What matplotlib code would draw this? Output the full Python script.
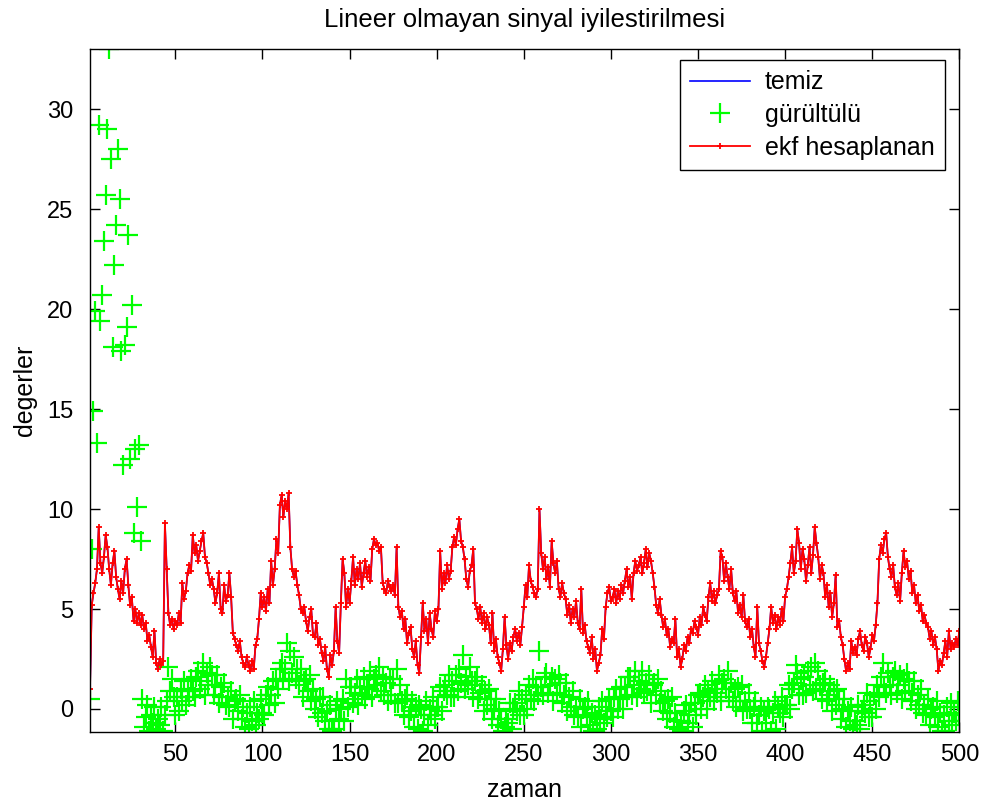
import numpy as np
import matplotlib
matplotlib.use("Agg")
import matplotlib.pyplot as plt

plt.rcParams['font.family'] = ['Liberation Sans', 'DejaVu Sans']

# ekf estimate, t = 1..500
ekf = [
    1.0, 5.2, 5.8, 6.3, 7.0, 9.1, 7.3, 6.8, 7.6, 8.7,
    8.1, 7.0, 6.2, 7.3, 7.9, 6.6, 6.0, 5.5, 6.4, 5.8,
    7.0, 7.5, 6.2, 5.2, 5.6, 4.4, 5.0, 4.3, 4.8, 4.2,
    4.7, 4.0, 4.3, 3.4, 3.7, 3.1, 2.6, 3.9, 2.3, 2.0,
    2.5, 2.2, 2.4, 9.3, 7.0, 4.8, 4.2, 4.5, 4.0, 4.4,
    4.2, 4.8, 4.3, 6.3, 5.5, 5.9, 6.8, 7.2, 6.9, 8.7,
    7.8, 8.2, 7.4, 7.9, 8.4, 8.8, 7.6, 7.3, 6.8, 6.2,
    6.5, 6.0, 5.3, 5.8, 6.8, 5.0, 4.8, 6.2, 5.4, 5.7,
    6.8, 5.6, 3.8, 3.5, 3.2, 2.9, 3.4, 2.6, 2.3, 2.1,
    2.6, 2.2, 1.9, 2.4, 2.0, 3.2, 3.5, 4.5, 5.8, 5.1,
    5.6, 4.9, 6.0, 5.3, 7.4, 6.2, 7.0, 8.5, 7.8, 10.2,
    10.7, 9.6, 10.4, 10.0, 10.8, 8.1, 7.0, 6.6, 6.9, 6.2,
    5.7, 5.0, 4.8, 5.1, 4.4, 3.9, 4.6, 5.0, 3.7, 3.6,
    4.3, 3.2, 3.5, 2.8, 2.4, 3.1, 2.0, 1.6, 2.7, 2.2,
    2.9, 5.1, 3.4, 2.8, 5.3, 7.5, 6.8, 5.1, 6.0, 5.3,
    6.4, 7.6, 6.2, 7.0, 6.5, 7.3, 6.1, 6.8, 7.4, 6.6,
    7.1, 6.4, 8.0, 8.5, 8.2, 8.3, 7.9, 8.1, 6.3, 6.0,
    5.8, 6.4, 6.1, 5.9, 6.2, 5.7, 8.1, 5.1, 4.6, 4.9,
    4.0, 4.5, 3.3, 3.8, 4.1, 3.0, 2.6, 3.4, 2.2, 1.8,
    3.6, 5.3, 3.9, 4.5, 3.3, 4.8, 4.0, 3.6, 4.9, 4.4,
    5.0, 7.9, 6.0, 6.8, 6.3, 7.2, 6.5, 6.9, 8.1, 8.6,
    8.2, 9.0, 9.5, 8.4, 8.1, 7.5, 6.5, 6.1, 6.9, 7.2,
    8.0, 5.3, 5.0, 4.5, 5.1, 4.3, 4.8, 4.0, 4.6, 4.2,
    3.3, 4.8, 2.9, 3.5, 2.6, 2.3, 1.9, 3.0, 4.6, 3.2,
    2.5, 3.3, 2.9, 3.6, 4.0, 3.4, 3.8, 3.2, 4.1, 5.1,
    6.2, 5.6, 7.2, 6.4, 6.1, 5.8, 5.6, 6.0, 10.0, 7.8,
    7.0, 7.6, 6.5, 7.1, 6.1, 8.4, 7.3, 6.8, 7.4, 6.0,
    5.6, 6.3, 5.8, 5.5, 4.7, 5.2, 4.3, 5.0, 4.6, 5.4,
    4.3, 4.0, 6.0, 3.8, 4.2, 3.4, 3.1, 2.8, 3.6, 2.5,
    3.0, 1.9, 2.3, 2.7, 4.0, 3.5, 5.1, 5.8, 6.1, 5.4,
    5.6, 6.0, 5.3, 5.9, 5.5, 6.2, 5.8, 6.4, 7.0, 6.1,
    6.6, 5.5, 6.8, 7.4, 6.9, 7.2, 7.6, 6.8, 7.3, 8.0,
    7.1, 7.8, 7.4, 6.8, 6.1, 5.2, 4.8, 5.5, 4.7, 4.1,
    4.5, 3.7, 4.0, 3.1, 3.5, 3.3, 4.5, 2.6, 3.0, 2.1,
    2.5, 3.2, 2.9, 3.6, 3.3, 4.0, 3.8, 4.4, 4.1, 3.7,
    4.6, 4.2, 5.1, 4.7, 4.4, 5.6, 6.3, 5.4, 5.9, 5.3,
    5.7, 6.0, 7.9, 7.6, 6.4, 7.3, 6.6, 6.0, 7.0, 5.8,
    5.4, 5.9, 4.8, 5.2, 4.6, 5.7, 4.4, 4.1, 4.5, 3.6,
    4.0, 3.1, 2.6, 5.1, 3.3, 2.9, 2.4, 2.1, 2.6, 3.3,
    4.0, 5.1, 4.3, 4.7, 4.0, 4.6, 4.2, 5.0, 4.4, 5.6,
    6.0, 6.6, 7.3, 8.1, 6.8, 7.4, 9.0, 8.3, 7.0, 8.0,
    7.5, 6.4, 7.2, 8.1, 6.8, 7.7, 9.1, 8.3, 7.6, 6.5,
    7.2, 6.8, 5.6, 6.2, 5.1, 5.8, 4.6, 5.3, 6.7, 4.1,
    4.4, 3.6, 3.2, 2.5, 1.9, 2.3, 2.0, 3.4, 2.8, 3.1,
    2.7, 3.5, 3.9, 3.2, 2.9, 3.6, 3.3, 2.6, 3.0, 3.7,
    3.4, 4.2, 5.3, 7.5, 8.2, 7.8, 8.5, 8.8, 7.6, 7.0,
    6.6, 7.2, 6.1, 5.7, 6.3, 5.4, 6.8, 7.9, 7.1, 7.4,
    6.5, 6.9, 5.8, 6.2, 5.3, 5.7, 4.9, 5.2, 4.4, 4.7,
    4.3, 4.1, 3.5, 3.9, 3.2, 3.6, 3.0, 1.9, 2.4, 2.2,
    2.8, 3.4, 2.6, 3.9, 3.0, 3.3, 3.1, 3.5, 3.2, 3.9,
]

noisy = [
    0.5, 8.0, 14.9, 19.9, 13.3, 29.2, 19.4, 20.7, 23.4, 25.7,
    29.0, 33.0, 27.5, 18.1, 22.2, 24.2, 28.0, 25.5, 17.9, 12.2,
    18.2, 19.1, 23.7, 12.5, 20.2, 8.8, 13.0, 10.1, 13.2, 8.4,
    0.5, -0.9, -0.4, 0.2, -1.1, -0.3, -0.7, 0.1, -1.0, -0.5,
    -0.8, 0.1, -1.1, -0.3, 0.4, 2.1, 0.9, 1.5, 0.6, -0.3,
    0.6, -0.1, 1.0, 0.4, 1.4, 0.2, 0.9, 0.6, 1.5, 0.9,
    0.6, 1.6, 1.9, 1.0, 1.4, 2.3, 0.7, 1.8, 1.2, 2.1,
    1.7, 0.7, 1.2, 1.7, 0.3, 1.1, 0.6, 1.3, 0.2, 0.6,
    0.1, 0.9, -0.5, 0.4, 0.5, -0.1, 0.7, -0.5, 0.1, -0.9,
    -0.2, -1.0, 0.1, -0.6, 0.4, -0.8, -0.2, -0.5, 0.5, -0.2,
    -0.3, 0.7, 1.1, 0.2, 0.7, 1.4, 0.3, 1.5, 1.0, 2.0,
    2.3, 1.5, 2.0, 3.3, 1.4, 2.9, 1.8, 2.6, 1.5, 2.0,
    1.2, 2.0, 0.6, 1.4, 1.5, 0.9, 1.7, 0.4, 1.0, 0.0,
    0.5, -0.4, 0.6, -0.2, 0.6, -0.6, -0.1, -1.0, 0.2, -1.1,
    -1.0, 0.0, 0.4, -0.5, 0.0, 0.5, -0.6, 1.5, 0.1, 1.1,
    1.1, 0.3, 0.8, 1.5, 0.2, 1.1, 0.7, 1.6, 0.5, 1.1,
    1.0, 1.9, 0.6, 1.5, 1.7, 1.2, 2.1, 0.9, 1.6, 0.7,
    1.3, 0.4, 1.5, 0.7, 1.5, 0.3, 2.0, 0.3, 1.2, 0.4,
    -0.3, 0.5, 0.7, -0.4, -0.1, 0.4, -0.9, 0.1, -1.0, 0.2,
    0.0, -1.1, -0.3, 0.4, -0.8, 0.0, -0.3, 0.6, -0.5, 0.1,
    0.1, 1.1, -0.1, 0.9, 1.2, 0.7, 1.7, 0.6, 1.4, 0.6,
    1.7, 0.9, 2.0, 1.3, 2.7, 1.0, 1.6, 1.2, 2.1, 1.4,
    0.6, 1.4, 1.6, 0.5, 0.8, 1.2, -0.1, 0.9, 0.2, 1.0,
    0.5, -0.5, 0.0, 0.5, -0.8, -0.1, -0.5, -1.1, -0.9, -0.5,
    -0.7, 0.3, -1.0, 0.0, 0.3, -0.1, 0.9, -0.3, 0.5, -0.3,
    0.7, 0.0, 1.2, 0.5, 1.5, 0.4, 1.1, 0.7, 2.9, 1.1,
    0.7, 1.6, 1.8, 0.8, 1.2, 1.6, 0.4, 1.5, 0.8, 1.7,
    1.3, 0.3, 0.7, 1.3, -0.1, 0.6, 0.1, 0.9, -0.3, 0.1,
    -0.4, 0.5, -0.9, 0.0, 0.1, -0.4, 0.4, -0.8, -0.2, -1.1,
    -0.3, -1.0, 0.1, -0.5, 0.4, -0.7, -0.1, -0.4, 0.5, -0.1,
    -0.4, 0.6, 1.0, 0.0, 0.5, 1.1, 0.0, 1.1, 0.6, 1.6,
    1.6, 0.7, 1.2, 1.9, 0.6, 1.4, 1.0, 1.9, 0.8, 1.3,
    0.9, 1.7, 0.3, 1.2, 1.3, 0.7, 1.5, 0.3, 0.9, -0.1,
    0.4, -0.5, 0.5, -0.2, 0.6, -0.9, -0.2, -0.6, -1.0, -0.6,
    -1.1, -0.1, 0.2, -0.7, -0.3, 0.3, -0.9, 0.3, -0.3, 0.7,
    0.8, 0.0, 0.6, 1.2, 0.0, 0.9, 0.6, 1.4, 0.4, 1.0,
    0.8, 1.7, 0.4, 1.3, 1.5, 1.0, 1.9, 0.6, 1.3, 0.4,
    1.0, 0.1, 1.1, 0.4, 1.2, -0.1, 0.4, 0.0, 0.8, 0.0,
    -0.7, 0.1, 0.4, -0.7, -0.3, 0.1, -1.1, -0.1, -0.7, 0.1,
    0.0, -1.1, -0.2, 0.4, -1.0, 0.1, -0.2, 0.6, -0.4, 0.2,
    0.2, 1.2, 0.0, 1.0, 1.3, 2.2, 1.8, 0.7, 1.5, 0.7,
    1.6, 0.8, 1.9, 1.2, 2.1, 0.9, 2.3, 1.0, 1.9, 1.2,
    0.5, 1.3, 1.5, 0.4, 0.7, 1.2, -0.1, 0.9, 0.2, 1.0,
    0.5, -0.5, 0.0, 0.5, -0.9, -0.1, -0.6, 0.1, -1.0, -0.6,
    -0.8, 0.2, -1.0, -0.1, 0.2, -0.2, 0.8, -0.4, 0.4, -0.4,
    0.7, 0.0, 1.2, 0.6, 1.6, 2.3, 1.1, 0.8, 1.8, 1.2,
    0.7, 1.6, 1.9, 0.8, 1.2, 1.7, 0.5, 1.5, 0.9, 1.8,
    1.4, 0.4, 0.8, 1.4, 0.0, 0.7, 0.2, 1.0, -0.2, 0.2,
    -0.3, 0.5, -0.8, 0.0, 0.1, -0.4, 0.4, -0.9, -0.2, -1.1,
    -0.3, -1.1, 0.1, -0.6, 0.3, -0.8, -0.2, -0.6, 0.4, -0.3,
]

# clean signal lies under the ekf curve almost everywhere
clean = ekf

t = np.arange(1, len(ekf) + 1)

fig = plt.figure(figsize=(9.89, 8.05), dpi=100)
ax = fig.add_axes([0.091, 0.0907, 0.879, 0.848])

ax.plot(t, clean, color='blue', lw=1.2, label='temiz')
ax.plot(t, noisy, '+', color='#00ff00', ms=14, mew=1.6, label='gürültülü')
ax.plot(t, ekf, '-+', color='red', lw=1.3, ms=5, mew=1.3, label='ekf hesaplanan')

ax.set_xlim(1, 500)
ax.set_ylim(-1.15, 33.0)
ax.set_xticks(np.arange(50, 501, 50))
ax.set_yticks(np.arange(0, 31, 5))
ax.tick_params(direction='in', top=True, right=True, length=7, width=1,
               labelsize=17)
ax.tick_params(axis='x', pad=9)
ax.tick_params(axis='y', pad=12)
for s in ax.spines.values():
    s.set_linewidth(1)

ax.set_title('Lineer olmayan sinyal iyilestirilmesi', fontsize=18.5, pad=16)
ax.set_xlabel('zaman', fontsize=18, labelpad=8)
ax.set_ylabel('degerler', fontsize=18, labelpad=7)

leg = ax.legend(loc='upper right', bbox_to_anchor=(0.983, 0.984),
                borderaxespad=0, fancybox=False, framealpha=1,
                edgecolor='black', fontsize=18, handlelength=2.4,
                handletextpad=0.6, labelspacing=0.35)
leg.get_frame().set_linewidth(1)

fig.savefig('out.png', dpi=100)
